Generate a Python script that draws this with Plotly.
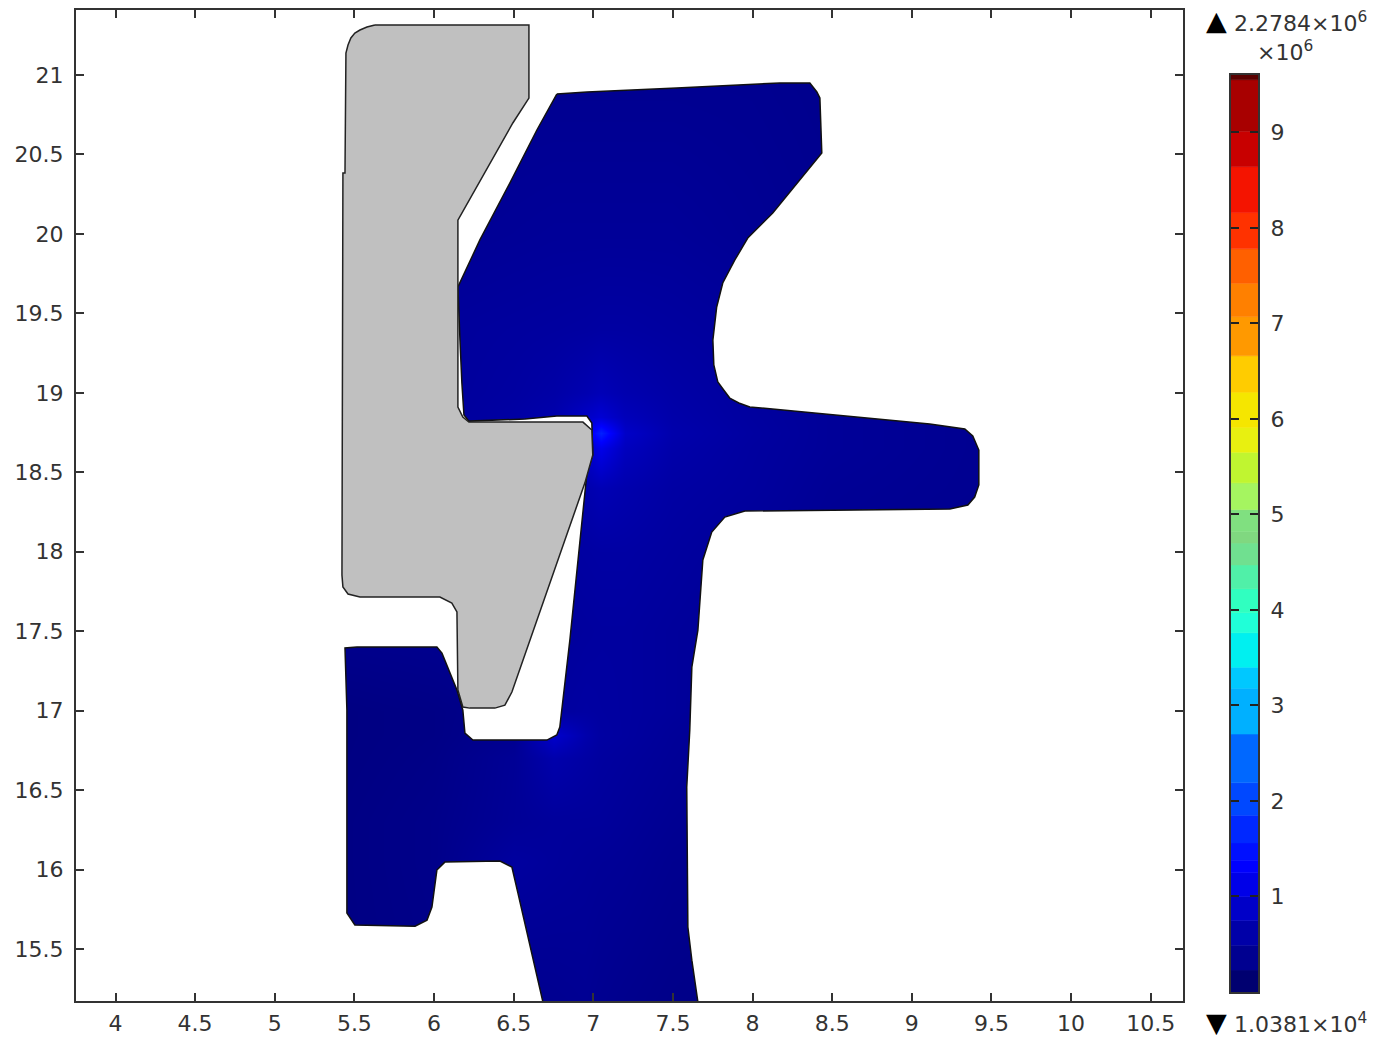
import plotly.graph_objects as go

# Outlines of the two domains, in axis units
gray_x = [5.629, 6.596, 6.596, 6.495, 6.150, 6.150, 6.181, 6.219, 6.935, 6.991, 6.997, 6.947,
          6.822, 6.646, 6.558, 6.489, 6.445, 6.382, 6.225, 6.181, 6.150, 6.144, 6.112, 6.037,
          5.535, 5.460, 5.428, 5.422, 5.428, 5.441, 5.447, 5.460, 5.478, 5.503, 5.535, 5.579, 5.629]
gray_y = [21.315, 21.315, 20.855, 20.698, 20.087, 18.911, 18.848, 18.816, 18.816, 18.766, 18.609, 18.432,
          18.074, 17.570, 17.318, 17.117, 17.035, 17.016, 17.016, 17.023, 17.130, 17.621, 17.677, 17.715,
          17.715, 17.734, 17.778, 17.853, 20.383, 20.383, 21.138, 21.189, 21.233, 21.264, 21.283, 21.302, 21.315]

blue_x = [6.771, 6.960, 7.524, 8.171, 8.360, 8.404, 8.423, 8.435, 8.127, 7.970, 7.889, 7.813, 7.775, 7.751,
          7.757, 7.782, 7.819, 7.857, 7.914, 7.983, 9.113, 9.333, 9.383, 9.421, 9.421, 9.395, 9.352, 9.239,
          7.952, 7.826, 7.744, 7.713, 7.688, 7.657, 7.619, 7.606, 7.587, 7.594, 7.619, 7.657, 6.684, 6.527,
          6.489, 6.414, 6.068, 6.018, 5.987, 5.956, 5.881, 5.503, 5.453, 5.453, 5.441, 5.516, 6.018, 6.050,
          6.144, 6.181, 6.194, 6.244, 6.709, 6.771, 6.790, 6.853, 6.916, 6.960, 6.997, 6.991, 6.960, 6.771,
          6.571, 6.363, 6.219, 6.188, 6.175, 6.163, 6.150, 6.288, 6.476, 6.646, 6.771]
blue_y = [20.880, 20.893, 20.918, 20.950, 20.950, 20.893, 20.855, 20.509, 20.132, 19.974, 19.836, 19.691,
          19.540, 19.332, 19.175, 19.068, 19.018, 18.967, 18.936, 18.911, 18.804, 18.772, 18.728, 18.640,
          18.420, 18.344, 18.294, 18.269, 18.256, 18.218, 18.124, 18.030, 17.948, 17.507, 17.274, 16.878,
          16.519, 15.638, 15.430, 15.166, 15.166, 15.852, 16.016, 16.054, 16.047, 15.997, 15.764, 15.682,
          15.644, 15.651, 15.726, 17.004, 17.394, 17.400, 17.400, 17.362, 17.130, 17.004, 16.859, 16.815,
          16.815, 16.847, 16.897, 17.444, 18.074, 18.495, 18.609, 18.810, 18.854, 18.854, 18.835, 18.829,
          18.822, 18.860, 19.062, 19.332, 19.666, 19.962, 20.320, 20.654, 20.880]

# Field magnitude (x 10^6), rows bottom to top
field_x = [5.3, 6.0, 6.5, 6.75, 6.95, 7.05, 7.2, 7.5, 8.0, 8.5, 9.6]
field_y = [15.1, 16.05, 16.3, 16.7, 16.85, 17.0, 17.5, 18.0, 18.4, 18.65, 18.75, 18.85, 19.0, 19.4, 20.0, 21.1]
field_z = [
    [.13, .16, .20, .22, .24, .22, .20, .17, .15, .15, .15],
    [.13, .18, .33, .30, .28, .27, .26, .22, .20, .18, .15],
    [.13, .18, .27, .30, .30, .30, .28, .24, .20, .18, .15],
    [.12, .16, .26, .42, .36, .33, .31, .27, .22, .18, .15],
    [.12, .15, .22, .65, .42, .35, .33, .28, .22, .18, .15],
    [.12, .15, .20, .32, .35, .34, .33, .30, .24, .20, .16],
    [.20, .22, .25, .30, .32, .33, .33, .30, .26, .22, .18],
    [.28, .28, .30, .33, .35, .36, .36, .33, .28, .24, .20],
    [.30, .30, .34, .38, .42, .48, .43, .36, .32, .26, .22],
    [.30, .30, .36, .42, .60, .85, .55, .40, .33, .28, .22],
    [.30, .30, .36, .45, .80, 1.25, .62, .42, .34, .28, .22],
    [.30, .30, .36, .42, .60, .70, .52, .40, .33, .28, .22],
    [.30, .30, .34, .38, .45, .50, .44, .38, .32, .27, .22],
    [.30, .30, .32, .33, .34, .35, .35, .33, .30, .25, .22],
    [.25, .25, .27, .28, .28, .28, .28, .28, .25, .22, .20],
    [.22, .22, .22, .22, .22, .22, .22, .22, .22, .20, .20],
]

# Legend bands, bottom to top
band_edges = [0, .23, .49, .75, 1.0, 1.25, 1.38, 1.56, 1.85, 2.19, 2.70, 3.18, 3.40, 3.76, 3.97, 4.22, 4.47,
              4.70, 4.82, 5.05, 5.33, 5.65, 5.91, 6.28, 6.66, 7.07, 7.42, 7.78, 8.16, 8.64, 9.01, 9.55, 9.60]
band_colors = ['#000070', '#000090', '#0000a8', '#0000c8', '#0000e8', '#0000ff', '#0010ff', '#0028ff',
               '#0048ff', '#0068ff', '#00b0ff', '#00c8ff', '#00f0f0', '#20ffd8', '#30ffc0', '#50f0a8',
               '#70e090', '#80d880', '#80e080', '#a5f560', '#c0f530', '#e8f010', '#f5e600', '#ffcc00',
               '#ff9900', '#ff8000', '#ff6000', '#ff3200', '#f41400', '#c80000', '#a80000', '#5a0000']

x_range = [3.752, 10.703]
y_range = [15.173, 21.409]

W, H = 1373, 1037
TEXT = '#333333'
FONT = dict(family='DejaVu Sans', size=22, color=TEXT)

fig = go.Figure()

fig.add_trace(go.Heatmap(
    x=field_x, y=field_y, z=field_z, zsmooth='best', showscale=False, zmin=0, zmax=2,
    colorscale=[[0, '#000070'], [0.5, '#0000ff'], [0.75, '#0040ff'], [1, '#0060ff']],
))

# white sheet with the blue domain cut out of it, the heatmap only shows through the hole
x0, x1 = x_range[0] - 1, x_range[1] + 1
y0, y1 = y_range[0] - 1, y_range[1] + 1
fig.add_trace(go.Scatter(
    x=[x0, x0, x1, x1, x0, None] + blue_x,
    y=[y1, y0, y0, y1, y1, None] + blue_y,
    mode='lines', fill='toself', fillcolor='white', line=dict(width=0), hoverinfo='skip',
))
fig.add_trace(go.Scatter(
    x=blue_x, y=blue_y, mode='lines', line=dict(color='#111111', width=1.5), hoverinfo='skip',
))
fig.add_trace(go.Scatter(
    x=gray_x, y=gray_y, mode='lines', fill='toself', fillcolor='#c0c0c0',
    line=dict(color='#222222', width=1.5), hoverinfo='skip',
))

fig.add_trace(go.Bar(
    x=[0] * (len(band_edges) - 1),
    y=[b - a for a, b in zip(band_edges[:-1], band_edges[1:])],
    base=band_edges[:-1],
    width=1,
    marker=dict(color=band_colors, line=dict(color=band_colors, width=0.5)),
    xaxis='x2', yaxis='y2', hoverinfo='skip',
))

axis = dict(
    showgrid=False, zeroline=False, showline=True, linecolor='#333333', linewidth=2,
    mirror='allticks', ticks='inside', ticklen=8, tickwidth=1.5, tickcolor='#333333',
    dtick=0.5, tickfont=FONT,
)


def note(text, x, y, size=22, color=TEXT):
    return dict(text=text, x=x / W, y=1 - y / H, xref='paper', yref='paper', xanchor='left',
                yanchor='middle', showarrow=False, font=dict(FONT, size=size, color=color))


fig.update_layout(
    width=W, height=H,
    margin=dict(l=0, r=0, t=0, b=0),
    paper_bgcolor='white', plot_bgcolor='white',
    showlegend=False, barmode='overlay',
    xaxis=dict(axis, domain=[76 / W, 1183 / W], range=x_range, tick0=4, ticklabelstandoff=2),
    yaxis=dict(axis, domain=[1 - 1001 / H, 1 - 10 / H], range=y_range, tick0=15.5, ticklabelstandoff=6),
    xaxis2=dict(domain=[1231 / W, 1258 / W], range=[-0.5, 0.5], anchor='y2', showgrid=False, zeroline=False,
                showticklabels=False, ticks='', showline=True, mirror=True, linecolor='#333333', linewidth=2),
    yaxis2=dict(domain=[1 - 992 / H, 1 - 75 / H], range=[0, 9.6], anchor='x2', side='right', showgrid=False,
                zeroline=False, showline=True, linecolor='#333333', linewidth=2, mirror='allticks',
                ticks='inside', ticklen=8, tickwidth=1.5, tickcolor='#222222', dtick=1, tick0=0,
                tickvals=[1, 2, 3, 4, 5, 6, 7, 8, 9], tickfont=FONT, ticklabelstandoff=6),
    annotations=[
        note('▲', 1204, 20, size=27, color='black'),
        note('2.2784×10<sup>6</sup>', 1232, 22),
        note('×10<sup>6</sup>', 1255, 51),
        note('▼', 1204, 1022, size=27, color='black'),
        note('1.0381×10<sup>4</sup>', 1232, 1023),
    ],
)

fig.write_html("out.html", config={'displayModeBar': False},
               post_script="document.body.style.margin='0';")
